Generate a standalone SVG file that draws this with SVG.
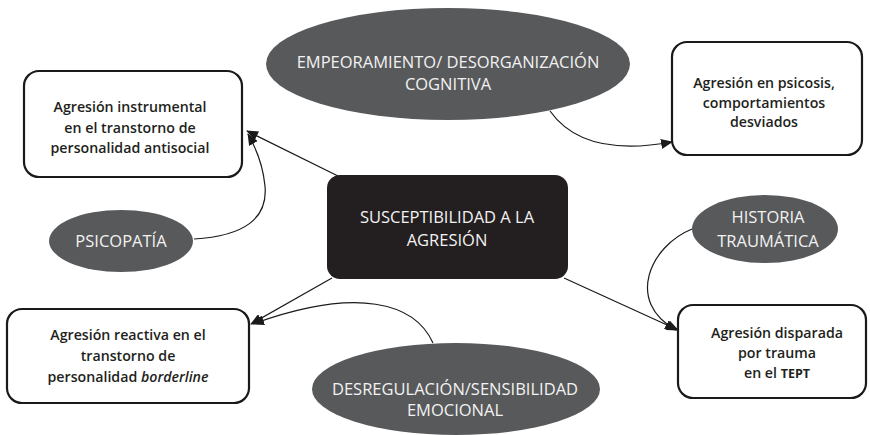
<svg xmlns="http://www.w3.org/2000/svg" width="870" height="435" viewBox="0 0 870 435">
<style>
.box{fill:#ffffff;stroke:#1a1a1a;stroke-width:2.2}
.ell{fill:#58595b}
.core{fill:#231f20}
.bt{font-family:"Open Sans","Noto Sans","DejaVu Sans",sans-serif;font-size:14.2px;font-weight:600;fill:#231f20;text-anchor:middle}
.et{font-family:"Open Sans","Noto Sans","DejaVu Sans",sans-serif;font-size:16.5px;fill:#f2f2f2;text-anchor:middle}
.con{fill:none;stroke:#1a1a1a;stroke-width:1.2}
</style>
<defs>
<marker id="arr" viewBox="0 0 12 10" refX="11" refY="5" markerWidth="12" markerHeight="10" markerUnits="userSpaceOnUse" orient="auto">
<path d="M0,0 L12,5 L0,10 Z" fill="#1a1a1a"/>
</marker>
</defs>
<rect width="870" height="435" fill="#ffffff"/>
<g id="connectors">
<path class="con" d="M338,176 L247,131" marker-end="url(#arr)"/>
<path class="con" d="M194,239 C245,236 268,218 265,186 C263,165 256,148 248,134" marker-end="url(#arr)"/>
<path class="con" d="M550,111 C572,142 612,153 672,142" marker-end="url(#arr)"/>
<path class="con" d="M332,278 L251,324" marker-end="url(#arr)"/>
<path class="con" d="M433,343 C415,303 358,286 253,324" marker-end="url(#arr)"/>
<path class="con" d="M564,278 L678,330" marker-end="url(#arr)"/>
<path class="con" d="M692,229 C650,246 625,302 676,330" marker-end="url(#arr)"/>
</g>
<g id="empeoramiento">
<ellipse class="ell" cx="448" cy="64" rx="182" ry="56"/>
<text class="et" x="448" y="68">EMPEORAMIENTO/ DESORGANIZACIÓN</text>
<text class="et" x="448" y="90">COGNITIVA</text>
</g>
<g id="instrumental">
<rect class="box" x="24" y="71" width="218" height="106" rx="15"/>
<text class="bt" x="130" y="112">Agresión instrumental</text>
<text class="bt" x="130" y="133">en el transtorno de</text>
<text class="bt" x="130" y="153">personalidad antisocial</text>
</g>
<g id="psicosis">
<rect class="box" x="672" y="42" width="190" height="113" rx="15"/>
<text class="bt" x="764" y="88">Agresión en psicosis,</text>
<text class="bt" x="764" y="108">comportamientos</text>
<text class="bt" x="764" y="127">desviados</text>
</g>
<g id="susceptibilidad">
<rect class="core" x="327" y="175" width="241" height="104" rx="13"/>
<text class="et" x="447" y="223">SUSCEPTIBILIDAD A LA</text>
<text class="et" x="447" y="246">AGRESIÓN</text>
</g>
<g id="psicopatia">
<ellipse class="ell" cx="121" cy="241" rx="72" ry="31"/>
<text class="et" x="121" y="247" font-size="15.5">PSICOPATÍA</text>
</g>
<g id="historia">
<ellipse class="ell" cx="765" cy="229" rx="73" ry="34"/>
<text class="et" x="768" y="223">HISTORIA</text>
<text class="et" x="768" y="247">TRAUMÁTICA</text>
</g>
<g id="reactiva">
<rect class="box" x="7" y="309" width="242" height="94" rx="15"/>
<text class="bt" x="128" y="340">Agresión reactiva en el</text>
<text class="bt" x="128" y="361">transtorno de</text>
<text class="bt" x="128" y="382">personalidad <tspan font-style="italic">borderline</tspan></text>
</g>
<g id="disparada">
<rect class="box" x="678" y="305" width="188" height="93" rx="15"/>
<text class="bt" x="777" y="338">Agresión disparada</text>
<text class="bt" x="777" y="358">por trauma</text>
<text class="bt" x="777" y="378">en el <tspan font-size="12.5" font-weight="700">TEPT</tspan></text>
</g>
<g id="desregulacion">
<ellipse class="ell" cx="456" cy="389" rx="144" ry="46"/>
<text class="et" x="455" y="395">DESREGULACIÓN/SENSIBILIDAD</text>
<text class="et" x="455" y="416">EMOCIONAL</text>
</g>
</svg>
